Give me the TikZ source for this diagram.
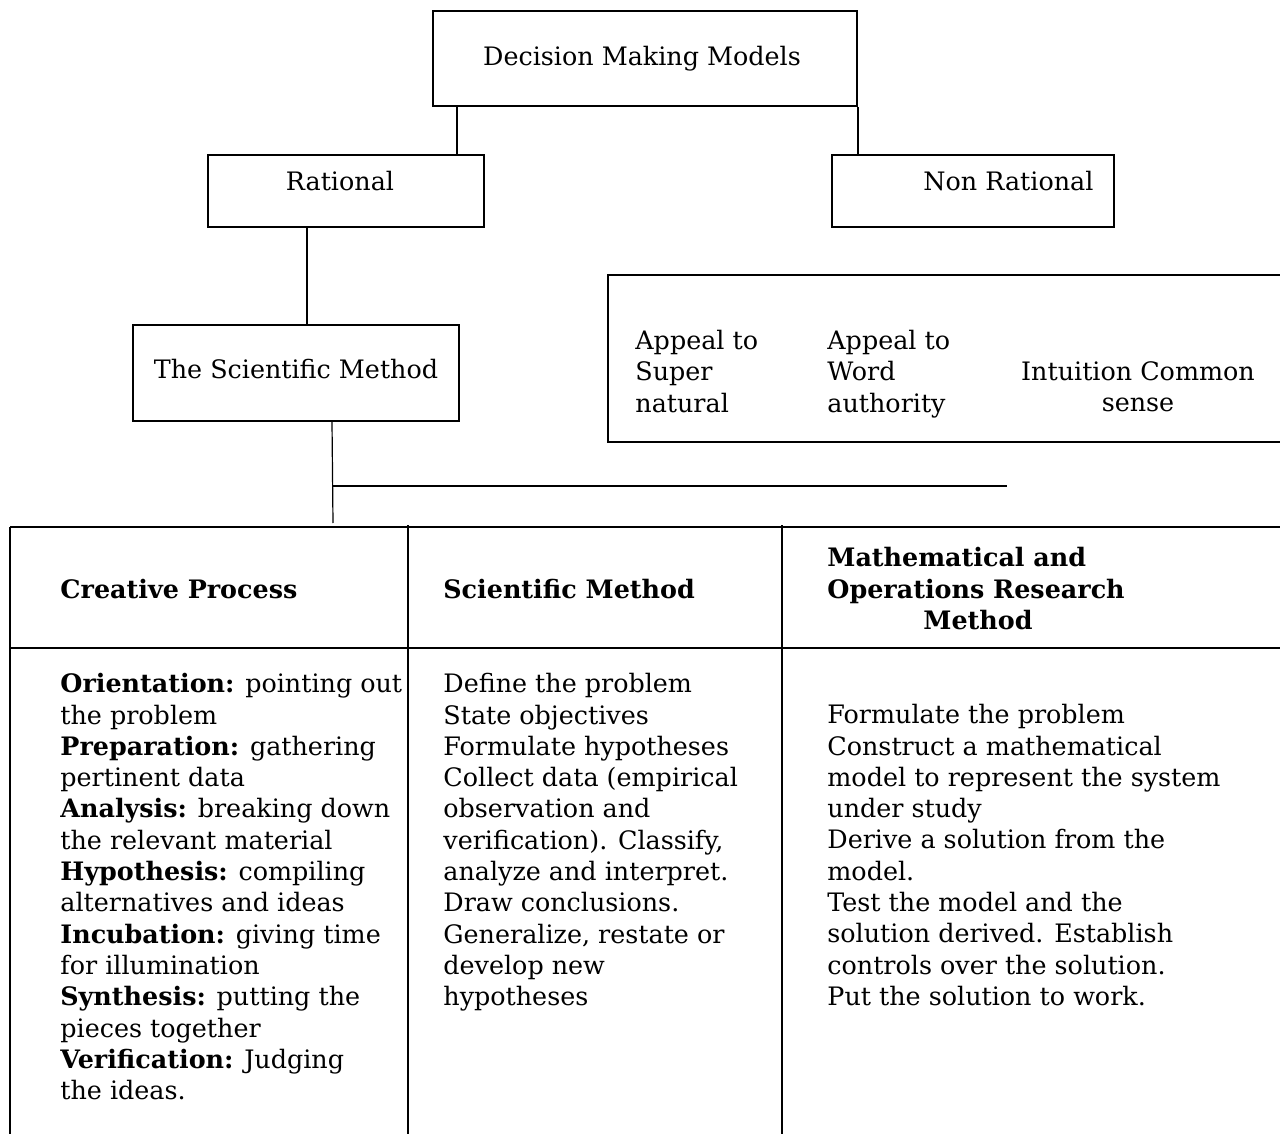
\documentclass[tikz,border=0pt]{standalone}
\usepackage{fontspec}
\setmainfont{DejaVu Serif}
\usetikzlibrary{positioning}
\tikzset{
  caixa/.style={draw, line width=1pt, inner sep=0pt},
  texto/.style={inner sep=0pt, font=\fontsize{12.7}{15.65}\selectfont},
  ligacao/.style={line width=0.6pt},
  grade/.style={line width=0.6pt},
  grossa/.style={line width=1.3pt},
}
\begin{document}
\begin{tikzpicture}[x=0.5pt,y=-0.5pt]
\useasboundingbox (0,0) rectangle (1280,1134);
\clip (0,0) rectangle (1280,1134);

% caixas superiores
	\node[caixa, minimum width=212pt, minimum height=47.5pt] (modelos) at (645,58.5) {};
	\node[caixa, minimum width=138pt, minimum height=36pt] (racional) at (346,191) {};
	\node[caixa, minimum width=141pt, minimum height=36pt] (naoracional) at (973,191) {};
	\node[caixa, minimum width=163pt, minimum height=48pt, below=48pt of racional.south west, anchor=north west, xshift=-37.5pt] (cientifico) {};
	\node[caixa, minimum width=341pt, minimum height=83.5pt] (apelos) at (949,358.5) {};

	\node[texto, anchor=base] (tmodelos) at (642,66) {Decision Making Models};
	\node[texto, anchor=base] (tracional) at (340,191) {Rational};
	\node[texto, anchor=base west] (tnaoracional) at (923,191) {Non Rational};
	\node[texto, anchor=base] (tcientifico) at (296,379) {The Scientific Method};

% metodos nao racionais
	\node[texto, anchor=north west, align=left] (sobrenatural) at (635,330) {Appeal to\\Super\\natural};
	\node[texto, anchor=north west, align=left] (autoridade) at (827,330) {Appeal to\\Word\\authority};
	\node[texto, anchor=north, align=center] (intuicao) at (1138,361) {Intuition Common\\sense};

% ligacoes
	\draw[ligacao] ([xshift=12.5pt]modelos.south west) -- ([xshift=12.5pt]modelos.south west |- racional.north);
	\draw[ligacao] (modelos.south east) -- (modelos.south east |- naoracional.north);
	\draw[ligacao] ([xshift=50pt]racional.south west) -- ([xshift=50pt]racional.south west |- cientifico.north);
	\coordinate (ramo) at (333,523);
	\coordinate (ramoA) at (333,486);
	\coordinate (ramoB) at (1007,486);
	\draw[ligacao] ([xshift=100pt]cientifico.south west) -- (ramo);
	\draw[ligacao] (ramoA) -- (ramoB);

% tabela
	\draw[grade] (10,527) -- (10,1145);
	\foreach \x in {408, 782}
		\draw[grade] (\x,525) -- (\x,1145);
	\draw[grossa] (10,527) -- (1290,527);
	\draw[grossa] (10,648) -- (1290,648);

	\node[texto, anchor=base west] (hcriativo) at (60,598) {\textbf{Creative Process}};
	\node[texto, anchor=base west] (hmetodo) at (443,598) {\textbf{Scientific Method}};
	\node[texto, anchor=north west, align=left] (hmatematico) at (827,547) {\textbf{Mathematical and}\\\textbf{Operations Research}\\\hspace*{48pt}\textbf{Method}};

	\node[texto, anchor=north west, align=left] (criativo) at (60,673) {%
		\textbf{Orientation:} pointing out\\the problem\\
		\textbf{Preparation:} gathering\\pertinent data\\
		\textbf{Analysis:} breaking down\\the relevant material\\
		\textbf{Hypothesis:} compiling\\alternatives and ideas\\
		\textbf{Incubation:} giving time\\for illumination\\
		\textbf{Synthesis:} putting the\\pieces together\\
		\textbf{Verification:} Judging\\the ideas.};
	\node[texto, anchor=north west, align=left] (metodo) at (443,673) {%
		Define the problem\\State objectives\\Formulate hypotheses\\
		Collect data (empirical\\observation and\\verification). Classify,\\
		analyze and interpret.\\Draw conclusions.\\Generalize, restate or\\
		develop new\\hypotheses};
	\node[texto, anchor=north west, align=left] (matematico) at (827,704) {%
		Formulate the problem\\Construct a mathematical\\model to represent the system\\
		under study\\Derive a solution from the\\model.\\Test the model and the\\
		solution derived. Establish\\controls over the solution.\\Put the solution to work.};
\end{tikzpicture}
\end{document}
